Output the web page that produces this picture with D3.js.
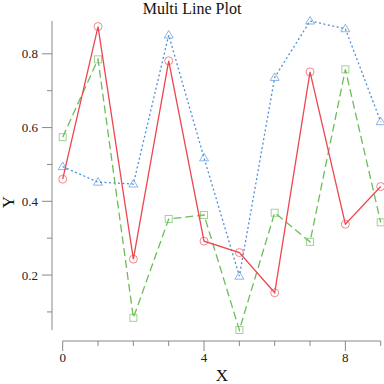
<!DOCTYPE html>
<html><head><meta charset="utf-8">
<script src="https://cdn.jsdelivr.net/npm/d3@7"></script>
<style>body{margin:0;background:#fff}svg{display:block}</style>
</head><body><svg id="c" width="384" height="384"></svg>
<script>
const xs = [0,1,2,3,4,5,6,7,8,9];
const redVals   = [0.460,0.874,0.243,0.781,0.292,0.261,0.152,0.751,0.338,0.440];
const greenVals = [0.574,0.785,0.084,0.352,0.363,0.051,0.369,0.290,0.758,0.343];
const blueVals  = [0.494,0.452,0.447,0.851,0.518,0.197,0.736,0.889,0.868,0.616];
const xMajorTicks = [0,4,8];
const yMajorTicks = [0.2,0.4,0.6,0.8];
const yMinorTicks = [0.1,0.3,0.5,0.7];
const title = "Multi Line Plot", xLabel = "X", yLabel = "Y";

const svg = d3.select("#c");
const font = "'Liberation Serif', 'DejaVu Serif', serif";
const all = redVals.concat(greenVals, blueVals);
const x = d3.scaleLinear().domain([0,9]).range([62.7,380.7]);
const y = d3.scaleLinear().domain(d3.extent(all)).range([330,21]);
const axisColor = "#888";

// X axis
const gx = svg.append("g").attr("transform","translate(0,341)");
gx.append("line").attr("x1",x(0)).attr("x2",x(9)).attr("stroke",axisColor).attr("stroke-width",1);
gx.selectAll("line.minor").data(xs).enter().append("line").attr("class","minor")
  .attr("x1",d=>x(d)).attr("x2",d=>x(d)).attr("y1",0).attr("y2",d=>xMajorTicks.includes(d)?10:5)
  .attr("stroke",axisColor);
gx.selectAll("text").data(xMajorTicks).enter().append("text")
  .attr("x",d=>x(d)).attr("y",21).attr("text-anchor","middle")
  .attr("font-family",font).attr("font-size",13).attr("fill","#222").text(d=>d);

// Y axis
const gy = svg.append("g").attr("transform","translate(52,0)");
gy.append("line").attr("y1",y.range()[0]).attr("y2",y.range()[1]).attr("stroke",axisColor);
gy.selectAll("line.t").data(yMajorTicks.concat(yMinorTicks)).enter().append("line").attr("class","t")
  .attr("y1",d=>y(d)).attr("y2",d=>y(d)).attr("x1",d=>yMajorTicks.includes(d)?-10:-5).attr("x2",0)
  .attr("stroke",axisColor);
gy.selectAll("text").data(yMajorTicks).enter().append("text")
  .attr("x",-14).attr("y",d=>y(d)).attr("dy","0.35em").attr("text-anchor","end")
  .attr("font-family",font).attr("font-size",13).attr("fill","#222").text(d=>d.toFixed(1));

// Titles
svg.append("text").attr("x",192).attr("y",14).attr("text-anchor","middle")
  .attr("font-family",font).attr("font-size",16).attr("fill","#111").text(title);
svg.append("text").attr("x",222).attr("y",381).attr("text-anchor","middle")
  .attr("font-family",font).attr("font-size",17).attr("fill","#111").text(xLabel);
svg.append("text").attr("transform","translate(14,202) rotate(-90)").attr("text-anchor","middle")
  .attr("font-family",font).attr("font-size",17).attr("fill","#111").text(yLabel);

const series = [
  {vals: blueVals, color:"#4a8fdb", dash:"2,2.5", marker:"triangle"},
  {vals: greenVals, color:"#6cbd5a", dash:"8,4", marker:"square"},
  {vals: redVals, color:"#ee4650", dash:null, marker:"circle"}
];
const line = d3.line().x((d,i)=>x(xs[i])).y(d=>y(d));
series.forEach(s=>{
  svg.append("path").attr("d",line(s.vals)).attr("fill","none").attr("stroke",s.color)
    .attr("stroke-width",1.3).attr("stroke-dasharray",s.dash);
  const g = svg.append("g");
  s.vals.forEach((v,i)=>{
    const cx = x(xs[i]), cy = y(v);
    let m;
    if (s.marker==="circle") m = g.append("circle").attr("cx",cx).attr("cy",cy).attr("r",4);
    else if (s.marker==="square") m = g.append("rect").attr("x",cx-3.5).attr("y",cy-3.5).attr("width",7).attr("height",7);
    else m = g.append("path").attr("d",`M${cx},${cy-4.5}L${cx+4.5},${cy+3}L${cx-4.5},${cy+3}Z`);
    m.attr("fill","none").attr("stroke",s.color).attr("stroke-opacity",0.65).attr("stroke-width",1);
  });
});
</script></body></html>
